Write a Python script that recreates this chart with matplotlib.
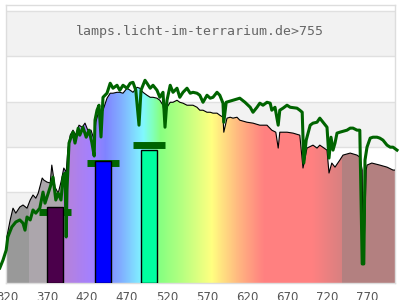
import numpy as np
import matplotlib
matplotlib.use('Agg')
import matplotlib.pyplot as plt
from matplotlib.colors import to_rgb

# --- Dados ---
TITULO = 'lamps.licht-im-terrarium.de>755'

# espectro da lâmpada (linha preta, área colorida)
lamp_nm = [319, 324, 327.5, 331, 336, 340, 345, 349, 352.5, 356,
           359, 364, 366, 370, 374, 376, 380, 384, 387.5, 391,
           394, 396, 399, 402.5, 406, 410, 414, 417.5, 421, 425,
           429, 431, 434, 436, 440, 445, 449, 452.5, 457.5, 461,
           465, 470, 474, 477.5, 482.5, 486, 490, 495, 499, 502.5,
           507.5, 511, 515, 517.5, 520, 524, 527.5, 532.5, 536, 540,
           545, 549, 552.5, 557.5, 561, 565, 570, 574, 577.5, 582.5,
           586, 590, 591, 595, 599, 602.5, 607.5, 611, 620, 627.5,
           636, 645, 651, 656, 659, 661, 670, 677.5, 686, 690,
           695, 702.5, 707.5, 711, 720, 722.5, 726, 730, 736, 740,
           749, 757.5, 761, 764, 765, 766, 769, 770, 776, 786,
           795, 802.5, 805]
lamp_val = [18.9, 27.8, 33.0, 30.8, 33.5, 34.4, 33.0, 36.6, 38.8, 37.4,
            39.6, 46.3, 45.4, 44.5, 44.1, 52.0, 42.3, 39.6, 44.5, 50.7,
            48.9, 58.6, 65.2, 67.4, 65.2, 69.6, 68.7, 70.5, 67.4, 67.4,
            63.0, 70.9, 74.9, 74.0, 76.2, 81.5, 83.7, 83.7, 84.1, 84.1,
            83.7, 85.9, 85.0, 84.1, 86.3, 85.9, 84.1, 82.8, 81.9, 81.9,
            81.5, 80.6, 78.4, 72.7, 77.5, 79.7, 79.7, 80.6, 79.7, 79.3,
            78.4, 78.4, 78.4, 77.5, 76.2, 76.2, 75.3, 75.3, 74.9, 74.9,
            74.0, 73.1, 66.5, 72.7, 73.1, 72.7, 73.1, 71.8, 70.9, 70.5,
            69.6, 69.6, 67.4, 66.5, 59.5, 66.5, 66.5, 66.1, 65.2, 50.7,
            59.5, 60.8, 59.5, 60.8, 58.6, 48.5, 52.9, 51.1, 54.2, 56.4,
            57.3, 56.4, 55.5, 49.8, 11.0, 11.0, 49.8, 52.0, 52.9, 52.0,
            51.1, 49.8, 49.8]

# espectro de referência (linha verde)
ref_nm = [311, 315, 319, 321, 326, 331, 336, 340, 342.5, 345,
          349, 352.5, 356, 361, 365, 367.5, 370, 374, 377.5, 381,
          384, 387.5, 390, 392.5, 394, 395, 397.5, 400, 402.5, 405,
          409, 411, 415, 419, 422.5, 426, 429, 430, 432.5, 435,
          437.5, 440, 445, 449, 452.5, 457.5, 461, 465, 470, 474,
          477.5, 481, 485, 487.5, 492.5, 495, 499, 502.5, 507.5, 511,
          515, 517.5, 520, 524, 527.5, 532.5, 536, 540, 545, 549,
          552.5, 557.5, 561, 565, 570, 574, 577.5, 582.5, 586, 590,
          591, 594, 602.5, 611, 617.5, 624, 627.5, 632.5, 636, 640,
          645, 649, 651, 655, 659, 661, 665, 670, 674, 682.5,
          686, 689, 691, 694, 699, 702.5, 707.5, 711, 715, 720,
          722.5, 725, 727.5, 730, 732.5, 736, 745, 749, 752.5, 757.5,
          761, 762.5, 764, 766, 767.5, 770, 774, 777.5, 782.5, 786,
          790, 795, 799, 802.5, 807.5]
ref_val = [6.6, 10.1, 14.5, 20.3, 24.7, 26.9, 27.8, 26.4, 23.3, 29.1,
           27.8, 32.2, 30.8, 33.0, 40.1, 35.2, 37.9, 42.3, 46.7, 36.6,
           39.6, 36.6, 46.7, 48.5, 20.3, 41.0, 61.7, 64.3, 66.5, 61.7,
           68.3, 65.2, 68.7, 64.3, 67.4, 62.1, 56.0, 71.8, 76.2, 78.4,
           64.4, 81.9, 83.7, 88.1, 85.9, 87.2, 85.0, 87.2, 85.9, 88.1,
           88.5, 85.0, 69.6, 85.0, 89.4, 88.1, 85.9, 87.2, 85.0, 81.9,
           84.1, 68.7, 80.6, 87.2, 84.1, 85.9, 81.9, 84.1, 85.9, 83.7,
           84.1, 83.7, 82.8, 79.7, 82.8, 81.5, 81.9, 84.1, 82.8, 79.3,
           70.9, 79.7, 80.6, 81.5, 79.7, 77.5, 75.3, 77.5, 79.3, 78.4,
           79.7, 79.3, 76.2, 77.5, 69.6, 76.2, 77.1, 78.4, 77.5, 77.1,
           76.2, 75.3, 52.9, 63.0, 69.6, 70.5, 70.9, 72.7, 70.9, 68.7,
           55.1, 64.3, 58.6, 61.7, 66.1, 66.5, 67.4, 68.3, 68.3, 67.4,
           67.4, 36.6, 8.4, 8.4, 54.2, 59.9, 63.9, 64.3, 64.3, 63.9,
           63.0, 60.8, 59.9, 59.9, 58.6]

# barras (faixas) e marcadores
barra_centro = [380, 440, 498]
barra_valor = [33.5, 53.7, 58.6]
barra_cor = ['#4b004b', '#0000ff', '#00ffa0']
marcador_valor = [31.5, 53.1, 61.0]

# cores do fundo por comprimento de onda
cor_nm = [318, 347.4, 347.5, 389.9, 390, 425, 443, 460, 478, 490, 500,
          512, 540, 562, 576, 590, 605, 622, 642, 702, 738.6, 738.7, 810]
cor_hex = ['#999999', '#999999', '#aca6ac', '#aca6ac', '#b882d8', '#a480ff',
           '#8084ff', '#80a8ff', '#80d8ff', '#80f8ff', '#80ffc8', '#88ff80',
           '#b8ff80', '#e4ff80', '#ffff80', '#ffe080', '#ffc080', '#ffa080',
           '#ff8080', '#ff8080', '#d88080', '#b38080', '#b38080']

X_MIN, X_MAX = 318.75, 805
Y_MAX = 122.6

fig = plt.figure(figsize=(4, 3), dpi=100)
ax = fig.add_axes([6 / 400, 17 / 300, 389 / 400, 278 / 300])

# faixas alternadas
for lo in range(0, 120, 20):
    if (lo // 20) % 2 == 1:
        ax.axhspan(lo, lo + 20, color='#f2f2f2', zorder=0, lw=0)

# gradiente de cores recortado pela área do espectro
lam = np.linspace(X_MIN, X_MAX, 800)
rgb = np.array([to_rgb(c) for c in cor_hex])
img = np.stack([np.interp(lam, cor_nm, rgb[:, k]) for k in range(3)], axis=-1)[None, :, :]
im = ax.imshow(img, extent=[X_MIN, X_MAX, 0, Y_MAX], aspect='auto',
               interpolation='nearest', zorder=1)
area = ax.fill_between(lamp_nm, 0, lamp_val, facecolor='none', edgecolor='none')
im.set_clip_path(area.get_paths()[0], transform=ax.transData)

# marcadores e barras
for c, v in zip(barra_centro, marcador_valor):
    ax.hlines(v, c - 20, c + 20, colors='#006400', lw=5, zorder=2)
ax.bar(barra_centro, barra_valor, width=20, color=barra_cor,
       edgecolor='black', linewidth=1, zorder=3)

# linhas
ax.plot(lamp_nm, lamp_val, color='black', lw=0.8, zorder=4)
ax.plot(ref_nm, ref_val, color='#006400', lw=2.2, zorder=5, clip_on=False)

ax.set_xlim(X_MIN, X_MAX)
ax.set_ylim(0, Y_MAX)
ax.set_xticks(range(320, 771, 50))
ax.set_yticks(range(0, 121, 20))
ax.set_yticklabels([])
ax.tick_params(axis='both', length=0)
ax.tick_params(axis='x', labelsize=8.5, labelcolor='#555555', pad=6)
ax.yaxis.grid(True, color='#e0e0e0', lw=1, zorder=0.5)
ax.set_axisbelow(True)
for s in ax.spines.values():
    s.set_color('#dddddd')
    s.set_linewidth(1)

fig.text(0.5, 1 - 31 / 300, TITULO, ha='center', va='center',
         family='DejaVu Sans Mono', fontsize=9.5, color='#666666')

fig.savefig('out.png', dpi=100)
